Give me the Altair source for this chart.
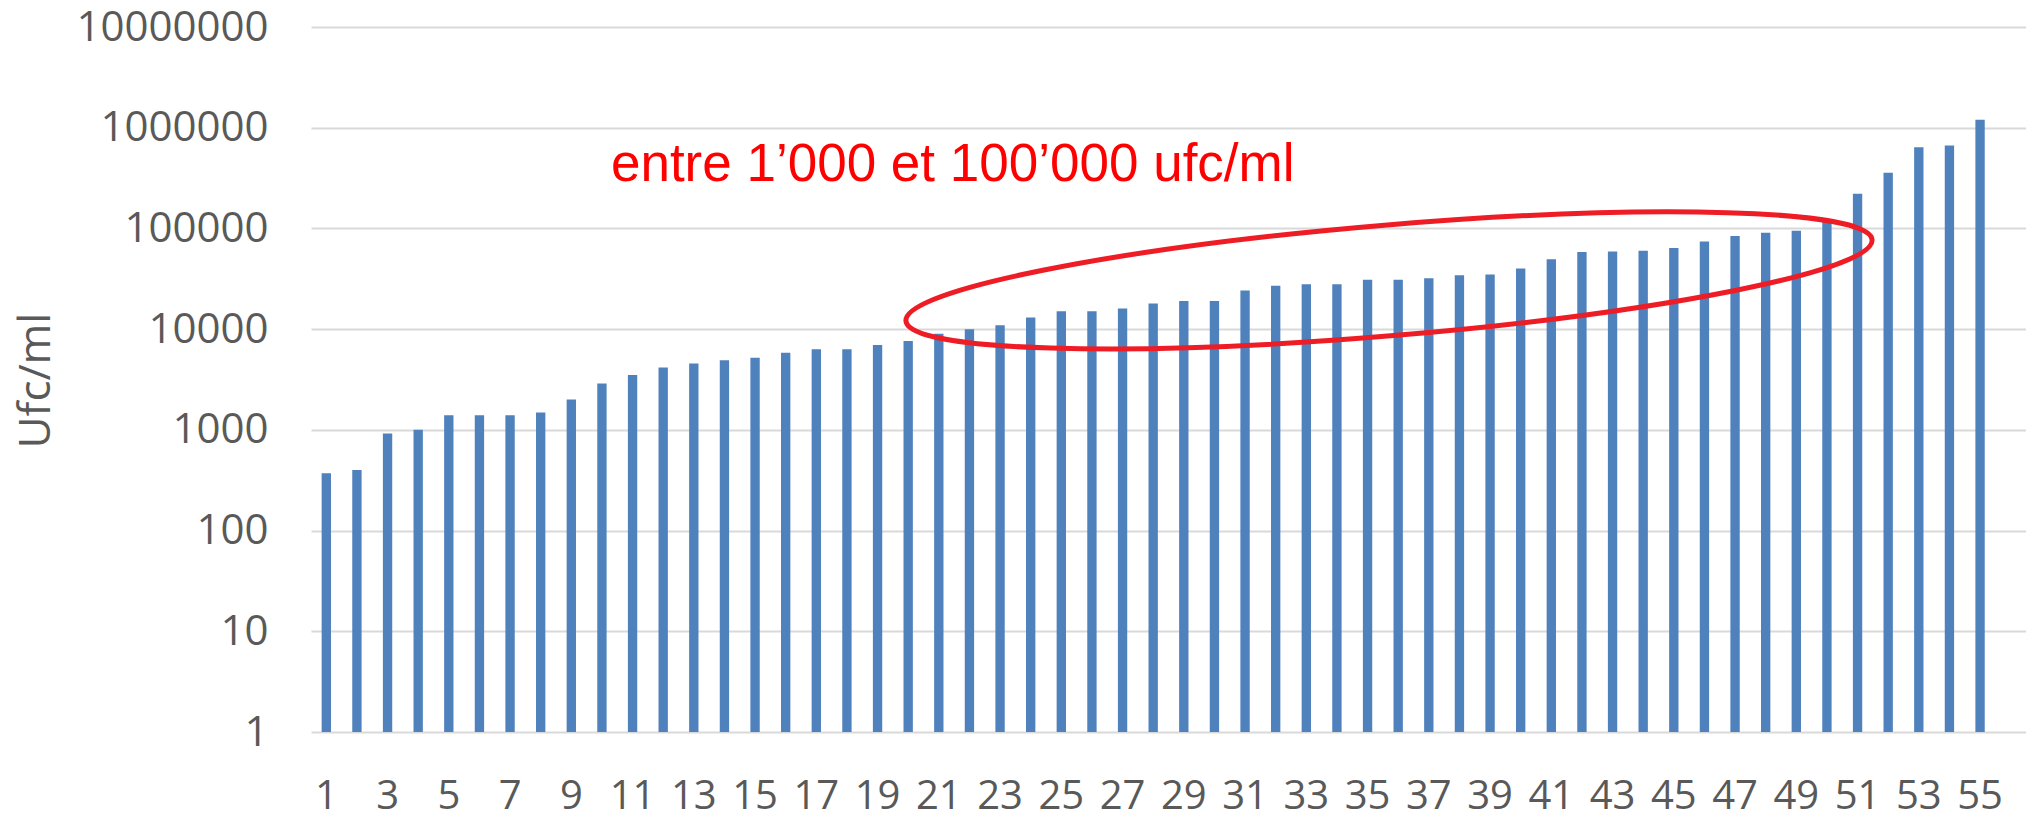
import altair as alt
import pandas as pd

# ---- data ----
samples = [str(i) for i in range(1, 56)]
ufc = [370, 400, 920, 1000, 1400, 1400, 1400, 1490, 2000, 2890,
       3500, 4160, 4570, 4900, 5200, 5830, 6300, 6300, 6950, 7620,
       9000, 10000, 10950, 13050, 15070, 15070, 16000, 17960, 19080, 19080,
       24160, 27000, 27900, 27900, 31000, 31000, 32000, 34300, 34800, 40100,
       49300, 58300, 59100, 60000, 63800, 74300, 83900, 90500, 94800, 115600,
       220900, 357400, 638000, 667600, 1200000]
x_domain = [str(i) for i in range(1, 57)]          # one empty slot after 55
x_labels = [str(i) for i in range(1, 56, 2)]
y_ticks = [1, 10, 100, 1000, 10000, 100000, 1000000, 10000000]

note_text = ["entre 1\u2019000 et 100\u2019000 ufc/ml"]
note_x = ["10"]
note_y = [293700]
ring_x = [35.7]          # position on the sample axis (sample k spans k-0.5..k+0.5)
ring_y = [30500]

df = pd.DataFrame({"sample": samples, "ufc": ufc})
note_df = pd.DataFrame({"sample": note_x, "ufc": note_y, "label": note_text})
ring_df = pd.DataFrame({"pos": ring_x, "ufc": ring_y})

GREY = "#595959"

x_scale = alt.Scale(domain=x_domain, paddingInner=0.695, paddingOuter=0.3475)
y_scale = alt.Scale(type="log", domain=[1, 10000000], nice=False)

x_enc = alt.X("sample:O", scale=x_scale, sort=None,
              axis=alt.Axis(values=x_labels, labelAngle=0, title=None,
                            domain=False, ticks=False, tickSize=0,
                            labelFont="Open Sans", labelFontSize=40,
                            labelColor=GREY, labelPadding=44, grid=False))
y_enc = alt.Y("ufc:Q", scale=y_scale,
              axis=alt.Axis(values=y_ticks, format="d", title="Ufc/ml",
                            domain=False, ticks=False, tickSize=0,
                            labelFont="Open Sans", labelFontSize=42,
                            labelColor=GREY, labelPadding=43, labelLimit=0,
                            grid=True, gridColor="#D9D9D9", gridWidth=2,
                            titleFont="Open Sans", titleFontSize=44,
                            titleFontWeight="normal", titleColor=GREY,
                            titleX=-275, titleY=353, titleAngle=270,
                            titleAlign="center", titleBaseline="middle"))

bars = alt.Chart(df).mark_bar(color="#4F81BD").encode(
    x=x_enc, y=y_enc, y2=alt.datum(1)
)

ellipse_path = ("M1,0 C1,0.0631 0.5523,0.1143 0,0.1143 "
                "C-0.5523,0.1143 -1,0.0631 -1,0 "
                "C-1,-0.0631 -0.5523,-0.1143 0,-0.1143 "
                "C0.5523,-0.1143 1,-0.0631 1,0 Z")

ring = alt.Chart(ring_df).mark_point(
    shape=ellipse_path, filled=False, color="#EE1C25", strokeWidth=5,
    opacity=1, size=940000, angle=355.2
).encode(
    x=alt.X("pos:Q", axis=None,
            scale=alt.Scale(domain=[0.5, 56.5], nice=False, zero=False)),
    y=alt.Y("ufc:Q", scale=y_scale),
)

note = alt.Chart(note_df).mark_text(
    font="Liberation Sans", fontSize=53, color="#FF0000",
    align="left", baseline="alphabetic", dx=9
).encode(
    x=alt.X("sample:O", scale=x_scale, sort=None, axis=None),
    y=alt.Y("ufc:Q", scale=y_scale),
    text="label:N",
)

chart = alt.layer(bars, ring, note).resolve_scale(x="independent").properties(
    width=1715, height=705,
    padding={"left": 303, "top": 19, "right": 0, "bottom": 84},
    autosize=alt.AutoSizeParams(type="none"),
    background="white",
).configure_view(stroke=None)

chart.save("out.html", embed_options={"renderer": "svg", "actions": False})
